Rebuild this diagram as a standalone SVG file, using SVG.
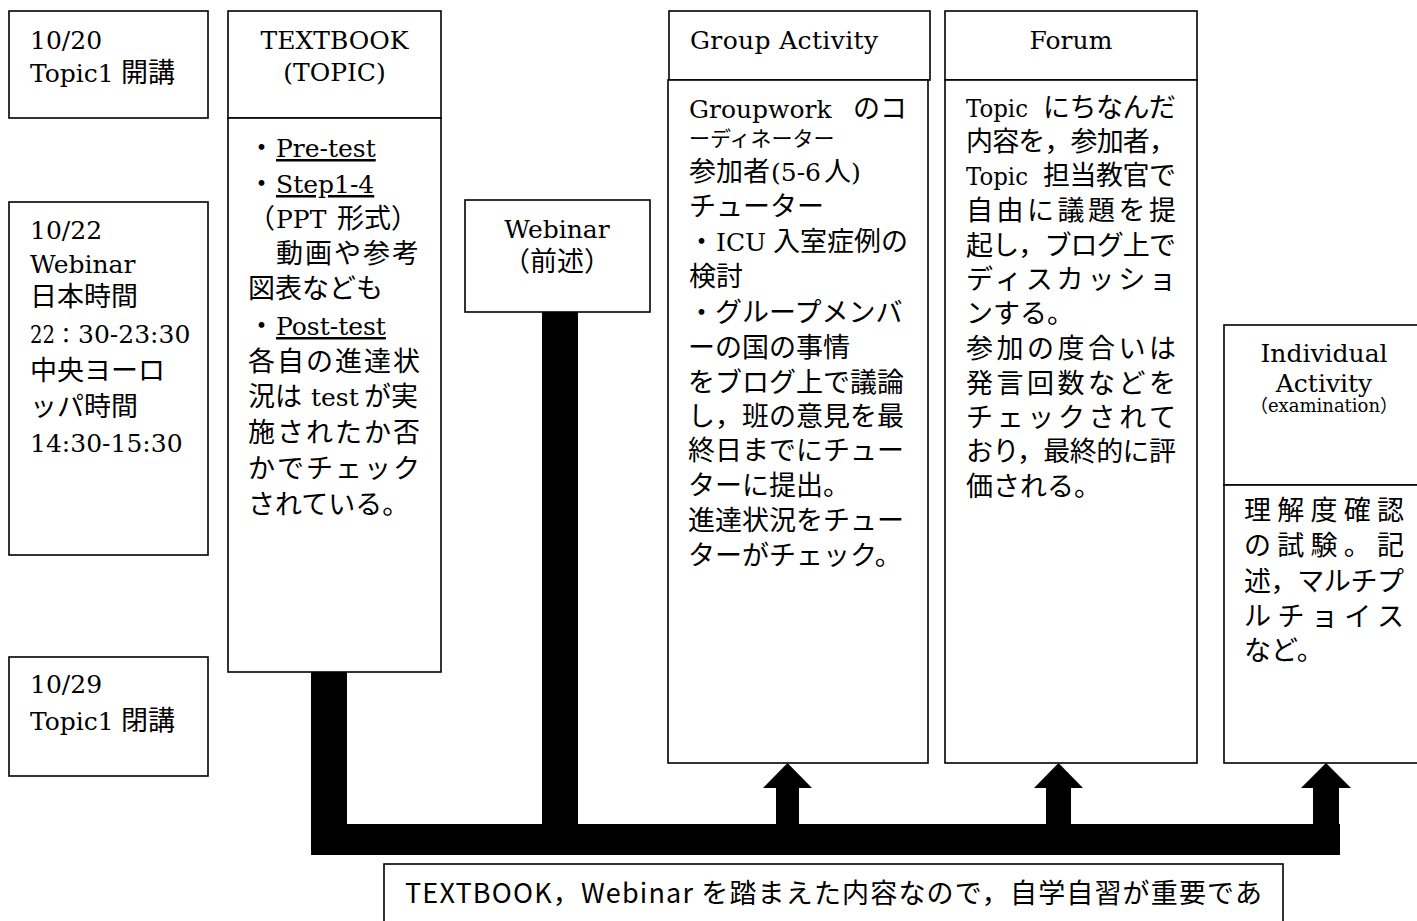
<svg xmlns="http://www.w3.org/2000/svg" width="1417" height="921" viewBox="0 0 1417 921">
<style>
.box{fill:#fff;stroke:#000;stroke-width:1.6}
text{font-family:"Noto Sans CJK JP",sans-serif;font-size:27px;fill:#000}
.s{font-family:"DejaVu Serif","Noto Sans CJK JP",serif;font-size:25px}
.u{text-decoration:underline}
.c{text-anchor:middle}
.bar{fill:#000}
</style>
<rect width="1417" height="921" fill="#fff"/>

<g id="connectors">
  <rect class="bar" x="311" y="672" width="36" height="183"/>
  <rect class="bar" x="542" y="312" width="36" height="514"/>
  <rect class="bar" x="311" y="824" width="1029" height="31"/>
  <rect class="bar" x="776" y="786" width="23" height="40"/>
  <polygon class="bar" points="763,788 812,788 787.5,763"/>
  <rect class="bar" x="1046" y="786" width="25" height="40"/>
  <polygon class="bar" points="1034,788 1083,788 1058.5,763"/>
  <rect class="bar" x="1313" y="786" width="26" height="40"/>
  <polygon class="bar" points="1301,788 1351,788 1326,763"/>
</g>

<g id="date1020">
  <rect class="box" x="9" y="11" width="199" height="107"/>
  <text><tspan class="s" x="30" y="49">10/20</tspan><tspan class="s" x="30" y="82">Topic1</tspan><tspan x="121" y="82">開講</tspan></text>
</g>

<g id="date1022">
  <rect class="box" x="9" y="202" width="199" height="353"/>
  <text><tspan class="s" x="30" y="239">10/22</tspan><tspan class="s" x="30" y="273">Webinar</tspan><tspan x="30" y="306">日本時間</tspan><tspan class="s" x="30" y="343" textLength="25" lengthAdjust="spacingAndGlyphs">22</tspan><tspan x="55" y="343" style="font-size:22px">：</tspan><tspan class="s" x="78" y="343">30-23:30</tspan><tspan x="30" y="380">中央ヨーロ</tspan><tspan x="30" y="416">ッパ時間</tspan><tspan class="s" x="30" y="452">14:30-15:30</tspan></text>
</g>

<g id="date1029">
  <rect class="box" x="9" y="657" width="199" height="119"/>
  <text><tspan class="s" x="30" y="693">10/29</tspan><tspan class="s" x="30" y="730">Topic1</tspan><tspan x="121" y="730">閉講</tspan></text>
</g>

<g id="textbook">
  <rect class="box" x="228" y="11" width="213" height="107"/>
  <rect class="box" x="228" y="118" width="213" height="554"/>
  <text class="s c"><tspan x="334.5" y="49">TEXTBOOK</tspan><tspan x="334.5" y="81">(TOPIC)</tspan></text>
  <text><tspan x="248" y="157">・</tspan><tspan class="s u" x="276" y="157">Pre-test</tspan><tspan x="248" y="193">・</tspan><tspan class="s u" x="276" y="193">Step1-4</tspan><tspan x="248" y="228">（</tspan><tspan class="s" x="276" y="228">PPT</tspan><tspan x="337" y="228">形式）</tspan><tspan x="276" y="263" textLength="143" lengthAdjust="spacing">動画や参考</tspan><tspan x="248" y="298">図表なども</tspan><tspan x="248" y="335">・</tspan><tspan class="s u" x="276" y="335">Post-test</tspan><tspan x="248" y="371" textLength="172" lengthAdjust="spacing">各自の進達状</tspan><tspan x="248" y="406">況は</tspan><tspan class="s" x="311" y="406">test</tspan><tspan x="364" y="406">が実</tspan><tspan x="248" y="442" textLength="172" lengthAdjust="spacing">施されたか否</tspan><tspan x="248" y="478" textLength="172" lengthAdjust="spacing">かでチェック</tspan><tspan x="248" y="514">されている。</tspan></text>
</g>

<g id="webinar">
  <rect class="box" x="465" y="200" width="185" height="112"/>
  <text class="c"><tspan class="s" x="557" y="238">Webinar</tspan><tspan x="557" y="271">（前述）</tspan></text>
</g>

<g id="group-activity">
  <rect class="box" x="669" y="11" width="261" height="69"/>
  <rect class="box" x="668" y="80" width="260" height="683"/>
  <text class="s" x="690" y="49" textLength="188" lengthAdjust="spacing">Group Activity</text>
  <text><tspan class="s" x="689" y="118">Groupwork</tspan><tspan x="853" y="118">のコ</tspan><tspan x="689" y="146" style="font-size:21px">ーディネーター</tspan><tspan x="689" y="181">参加者</tspan><tspan class="s" x="771" y="181">(5-6</tspan><tspan x="824" y="181">人</tspan><tspan class="s" x="851" y="181">)</tspan><tspan x="689" y="216">チューター</tspan><tspan x="688" y="251">・</tspan><tspan class="s" x="716" y="251">ICU</tspan><tspan x="773" y="251">入室症例の</tspan><tspan x="689" y="286">検討</tspan><tspan x="688" y="322">・グループメンバ</tspan><tspan x="688" y="357">ーの国の事情</tspan><tspan x="688" y="392">をブログ上で議論</tspan><tspan x="688" y="426">し，班の意見を最</tspan><tspan x="688" y="460">終日までにチュー</tspan><tspan x="688" y="495">ターに提出。</tspan><tspan x="688" y="530">進達状況をチュー</tspan><tspan x="688" y="565">ターがチェック。</tspan></text>
</g>

<g id="forum">
  <rect class="box" x="945" y="11" width="252" height="69"/>
  <rect class="box" x="945" y="80" width="252" height="683"/>
  <text class="s c" x="1071" y="49">Forum</text>
  <text><tspan class="s" x="966" y="117" textLength="62" lengthAdjust="spacingAndGlyphs">Topic</tspan><tspan x="1043" y="117" textLength="133" lengthAdjust="spacing">にちなんだ</tspan><tspan x="966" y="151" textLength="210" lengthAdjust="spacing">内容を，参加者，</tspan><tspan class="s" x="966" y="185" textLength="62" lengthAdjust="spacingAndGlyphs">Topic</tspan><tspan x="1043" y="185" textLength="133" lengthAdjust="spacing">担当教官で</tspan><tspan x="966" y="220" textLength="210" lengthAdjust="spacing">自由に議題を提</tspan><tspan x="966" y="255" textLength="210" lengthAdjust="spacing">起し，ブログ上で</tspan><tspan x="966" y="289" textLength="210" lengthAdjust="spacing">ディスカッショ</tspan><tspan x="966" y="323">ンする。</tspan><tspan x="966" y="358" textLength="210" lengthAdjust="spacing">参加の度合いは</tspan><tspan x="966" y="393" textLength="210" lengthAdjust="spacing">発言回数などを</tspan><tspan x="966" y="427" textLength="210" lengthAdjust="spacing">チェックされて</tspan><tspan x="966" y="461" textLength="210" lengthAdjust="spacing">おり，最終的に評</tspan><tspan x="966" y="496">価される。</tspan></text>
</g>

<g id="individual-activity">
  <rect class="box" x="1224" y="325" width="200" height="160"/>
  <rect class="box" x="1224" y="485" width="200" height="278"/>
  <text class="c"><tspan class="s" x="1324" y="362">Individual</tspan><tspan class="s" x="1324" y="392">Activity</tspan><tspan x="1324" y="412" style="font-size:18px">（<tspan class="s" style="font-size:18px">examination</tspan>）</tspan></text>
  <text><tspan x="1244" y="520" textLength="160" lengthAdjust="spacing">理解度確認</tspan><tspan x="1244" y="555" textLength="160" lengthAdjust="spacing">の試験。記</tspan><tspan x="1244" y="591" textLength="160" lengthAdjust="spacing">述，マルチプ</tspan><tspan x="1244" y="626" textLength="160" lengthAdjust="spacing">ルチョイス</tspan><tspan x="1244" y="660">など。</tspan></text>
</g>

<g id="note">
  <rect class="box" x="384" y="864" width="899" height="80"/>
  <text x="405" y="903" textLength="857" lengthAdjust="spacing">TEXTBOOK，Webinar を踏まえた内容なので，自学自習が重要であ</text>
</g>
</svg>
